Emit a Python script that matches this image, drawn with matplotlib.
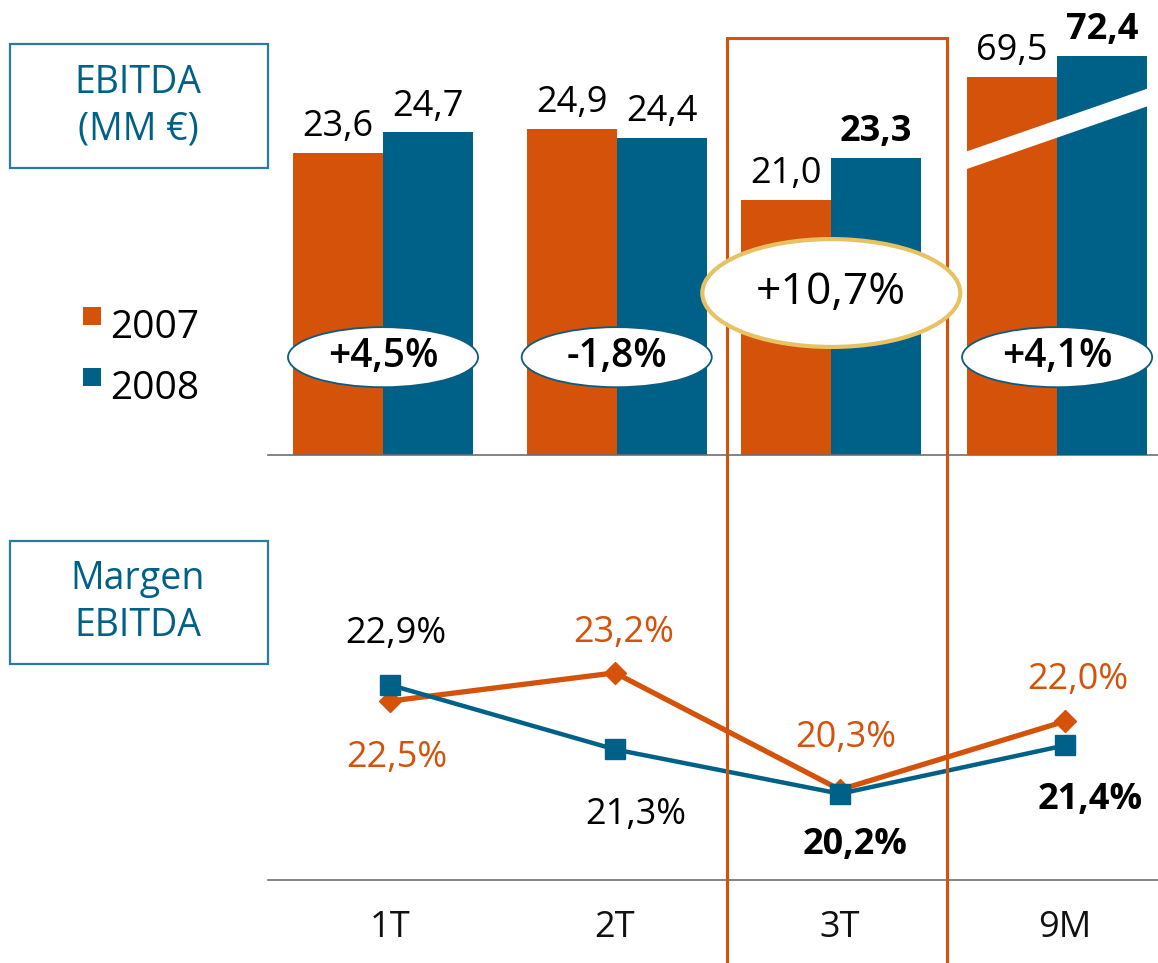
import numpy as np
import matplotlib
matplotlib.use('Agg')
import matplotlib.pyplot as plt
from matplotlib.patches import Rectangle, Ellipse
import matplotlib.transforms as mtransforms

plt.rcParams['font.family'] = ['Open Sans', 'DejaVu Sans']

# data
categories = ['1T', '2T', '3T', '9M']
ebitda_2007 = [23.6, 24.9, 21.0, 69.5]
ebitda_2008 = [24.7, 24.4, 23.3, 72.4]
growth = ['+4,5%', '-1,8%', '+10,7%', '+4,1%']
margin_2007 = [22.5, 23.2, 20.3, 22.0]
margin_2008 = [22.9, 21.3, 20.2, 21.4]
years = ['2007', '2008']

ORANGE = '#D4520A'
BLUE = '#006188'
GOLD = '#E8C262'
W, H = 1158, 963


def fx(px):
    return px / W


def fy(py):
    return 1 - py / H


def fmt(v):
    return f'{v:.1f}'.replace('.', ',')


fig = plt.figure(figsize=(W / 100, H / 100), dpi=100)

# ---- bar part ----
ax_bar = fig.add_axes([fx(268), fy(455), fx(1158 - 268), 455 / H])
ax_bar.set_zorder(1)
ax_bar.patch.set_visible(False)
ax9 = ax_bar.twinx()
ax9.set_zorder(1.1)
ax9.patch.set_visible(False)

ax_bar.set_xlim(-0.512, 3.449)
ax_bar.set_ylim(6.98, 6.98 + 455 / 18.2)
ax9.set_ylim(17.3, 17.3 + 455 / 7.24)

x = np.arange(len(categories))
# group spacing in the slide is not quite even
bx = np.array([0, 1.04, 1.995, 3.0])
bw = 0.4
bold_idx = [2, 3]

for i in range(len(categories)):
    ax = ax9 if categories[i] == '9M' else ax_bar
    ax.bar(bx[i] - bw / 2, ebitda_2007[i], bw, color=ORANGE, zorder=2)
    ax.bar(bx[i] + bw / 2, ebitda_2008[i], bw, color=BLUE, zorder=2)
    ax.annotate(fmt(ebitda_2007[i]), (bx[i] - bw / 2, ebitda_2007[i]), xytext=(0, 12),
                textcoords='offset points', ha='center', va='baseline', fontsize=26,
                color='black', annotation_clip=False)
    ax.annotate(fmt(ebitda_2008[i]), (bx[i] + bw / 2, ebitda_2008[i]), xytext=(0, 12),
                textcoords='offset points', ha='center', va='baseline', fontsize=26,
                color='black', fontweight='bold' if i in bold_idx else 'normal',
                annotation_clip=False)

# break mark on the 9M bars
ax9.plot([bx[3] - bw - 0.05, bx[3] + bw + 0.05], [57.5, 67.2], color='white', lw=12,
         solid_capstyle='butt', zorder=3)

# growth ellipses
trans = mtransforms.blended_transform_factory(ax9.transData, ax9.transAxes)
for i, g in enumerate(growth):
    if i == 2:
        e = Ellipse((bx[i], 0.356), 1.148, 0.237, transform=trans, facecolor='white',
                    edgecolor=GOLD, lw=3, zorder=5, clip_on=False)
        ax9.add_patch(e)
        ax9.text(bx[i], 0.356, g, transform=trans, ha='center', va='center',
                 fontsize=32, fontweight='medium', color='black', zorder=6)
    else:
        e = Ellipse((bx[i], 0.215), 0.846, 0.132, transform=trans, facecolor='white',
                    edgecolor='#0B5C80', lw=1.3, zorder=5, clip_on=False)
        ax9.add_patch(e)
        ax9.text(bx[i], 0.215, g, transform=trans, ha='center', va='center',
                 fontsize=28, fontweight='semibold', color='black', zorder=6)

for ax in (ax_bar, ax9):
    for s in ax.spines.values():
        s.set_visible(False)
    ax.set_xticks([])
    ax.set_yticks([])
ax_bar.spines['bottom'].set_visible(True)
ax_bar.spines['bottom'].set_color('#6E6E6E')
ax_bar.spines['bottom'].set_linewidth(1.2)

# ---- line part ----
ax_line = fig.add_axes([fx(268), fy(880), fx(1158 - 268), 340 / H])
ax_line.set_zorder(0)
ax_line.set_xlim(-0.542, 3.413)
ax_line.set_ylim(18.06, 18.06 + 340 / 40.3)

ax_line.plot(x, margin_2007, color=ORANGE, lw=3.8, marker='D', ms=11, zorder=3)
ax_line.plot(x, margin_2008, color=BLUE, lw=3.2, marker='s', ms=15, zorder=4)

off_2007 = [(5, -41), (6, 29), (4, 37), (9, 30)]
off_2008 = [(4, 37), (15, -47), (11, -37), (18, -39)]
for i in range(len(categories)):
    ax_line.annotate(fmt(margin_2007[i]) + '%', (x[i], margin_2007[i]), xytext=off_2007[i],
                     textcoords='offset points', ha='center', va='center', fontsize=26,
                     color=ORANGE, annotation_clip=False)
    ax_line.annotate(fmt(margin_2008[i]) + '%', (x[i], margin_2008[i]), xytext=off_2008[i],
                     textcoords='offset points', ha='center', va='center', fontsize=26,
                     color='black', fontweight='bold' if i in bold_idx else 'normal',
                     annotation_clip=False)

tl = mtransforms.blended_transform_factory(ax_line.transData, ax_line.transAxes)
for i, c in enumerate(categories):
    ax_line.text(x[i], -0.141, c, transform=tl, ha='center', va='center', fontsize=26,
                 color='#111111')

for s in ax_line.spines.values():
    s.set_visible(False)
ax_line.spines['bottom'].set_visible(True)
ax_line.spines['bottom'].set_color('#6E6E6E')
ax_line.spines['bottom'].set_linewidth(1.2)
ax_line.set_xticks([])
ax_line.set_yticks([])

# ---- highlight frame around 3T ----
fig.add_artist(Rectangle((fx(727), fy(985)), fx(947 - 727), (985 - 38) / H,
                         transform=fig.transFigure, fill=False, edgecolor=ORANGE,
                         lw=2.2, zorder=0.5))

# ---- title boxes ----
for top, bottom, txt in [(44, 168, 'EBITDA\n(MM €)'), (541, 664, 'Margen\nEBITDA')]:
    fig.add_artist(Rectangle((fx(10), fy(bottom)), fx(258), (bottom - top) / H,
                             transform=fig.transFigure, fill=False, edgecolor='#2A7BA0',
                             lw=1.6))
    fig.text(fx(138), fy((top + bottom) / 2), txt, ha='center', va='center', fontsize=27,
             fontweight='medium', color=BLUE, linespacing=1.3)

# ---- legend ----
for py, col, yr in [(307, ORANGE, years[0]), (368, BLUE, years[1])]:
    fig.add_artist(Rectangle((fx(83), fy(py + 18)), fx(18), 18 / H,
                             transform=fig.transFigure, facecolor=col, edgecolor='none'))
    fig.text(fx(110), fy(py + 21), yr, ha='left', va='center', fontsize=28, color='black')

fig.savefig('out.png', dpi=100)
